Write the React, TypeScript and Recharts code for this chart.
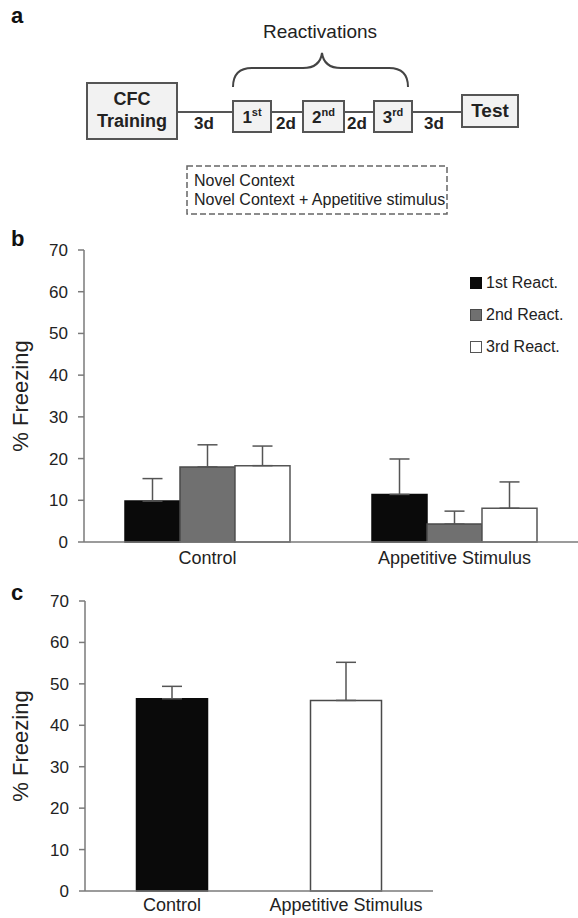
import React from 'react';
import { BarChart, Bar, XAxis, YAxis, ErrorBar, Legend, Label, Cell } from 'recharts';

const FONT = '"Liberation Sans", Arial, sans-serif';
const INK = '#222';
const AXIS = '#7a7a7a';

// panel b: freezing during each reactivation
const groups = ['Control', 'Appetitive Stimulus'];
const react1 = [9.8, 11.4];
const react1Err = [5.4, 8.5];
const react2 = [18.0, 4.3];
const react2Err = [5.3, 3.1];
const react3 = [18.3, 8.1];
const react3Err = [4.7, 6.3];

// panel c: test session
const testGroups = ['Control', 'Appetitive Stimulus'];
const testValues = [46.4, 46.0];
const testErr = [3.0, 9.2];
const testFills = ['#0a0a0a', '#ffffff'];
const testStrokes = ['#0a0a0a', '#4a4a4a'];

const yTicks = [0, 10, 20, 30, 40, 50, 60, 70];

const reactData = groups.map((g, i) => ({
  group: g,
  r1: react1[i],
  r1Err: [0, react1Err[i]],
  r2: react2[i],
  r2Err: [0, react2Err[i]],
  r3: react3[i],
  r3Err: [0, react3Err[i]],
}));

const testData = testGroups.map((g, i) => ({
  group: g,
  value: testValues[i],
  err: [0, testErr[i]],
}));

const YLabel = ({ viewBox }: any) => {
  const cx = 20;
  const cy = viewBox.y + viewBox.height / 2;
  return (
    <text
      x={cx}
      y={cy}
      transform={`rotate(-90 ${cx} ${cy})`}
      textAnchor="middle"
      dominantBaseline="central"
      fontFamily={FONT}
      fontSize={22}
      fill={INK}
    >
      % Freezing
    </text>
  );
};

const ReactLegend = ({ payload }: any) => (
  <div style={{ fontFamily: FONT, fontSize: 16, color: INK }}>
    {(payload || []).map((p: any) => (
      <div key={p.value} style={{ display: 'flex', alignItems: 'center', height: 32, whiteSpace: 'nowrap' }}>
        <span
          style={{
            display: 'inline-block',
            width: 10,
            height: 10,
            background: p.color,
            border: `1px solid ${p.payload?.stroke ?? p.color}`,
            marginRight: 4,
          }}
        />
        {p.value}
      </div>
    ))}
  </div>
);

const yAxisProps = {
  domain: [0, 70] as [number, number],
  ticks: yTicks,
  interval: 0 as const,
  tickSize: 6,
  tickMargin: 10,
  axisLine: { stroke: AXIS, strokeWidth: 1.5 },
  tickLine: { stroke: AXIS, strokeWidth: 1.5 },
  tick: { fontSize: 17, fill: INK, fontFamily: FONT },
};

const errProps = { stroke: '#555', strokeWidth: 1.5, width: 10 };

const Schematic = () => {
  const boxFill = '#f2f2f2';
  const boxStroke = '#555';
  const bold = { fontFamily: FONT, fontWeight: 700, fill: INK } as const;
  return (
    <svg width={578} height={230} style={{ position: 'absolute', left: 0, top: 0 }}>
      <text x={11} y={23} fontFamily={FONT} fontWeight={700} fontSize={22} fill="#111">a</text>
      <text x={320} y={38} textAnchor="middle" fontFamily={FONT} fontSize={19} fill={INK}>Reactivations</text>
      <path
        d="M233 87 Q233 68 252 68 L303 68 Q320 68 322 53 Q324 68 341 68 L389 68 Q408 68 408 87"
        fill="none"
        stroke="#444"
        strokeWidth={2}
      />
      <line x1={177} y1={112} x2={462} y2={112} stroke={boxStroke} strokeWidth={2} />
      <rect x={87} y={83} width={90} height={56} fill={boxFill} stroke={boxStroke} strokeWidth={2} />
      <text x={132} y={105} textAnchor="middle" fontSize={18} {...bold}>CFC</text>
      <text x={132} y={127} textAnchor="middle" fontSize={18} {...bold}>Training</text>

      <rect x={233} y={101} width={38} height={31} fill={boxFill} stroke={boxStroke} strokeWidth={2} />
      <text x={252} y={123} textAnchor="middle" fontSize={17} {...bold}>1<tspan fontSize={11} dy={-7}>st</tspan></text>
      <rect x={303} y={101} width={41} height={31} fill={boxFill} stroke={boxStroke} strokeWidth={2} />
      <text x={323.5} y={123} textAnchor="middle" fontSize={17} {...bold}>2<tspan fontSize={11} dy={-7}>nd</tspan></text>
      <rect x={374} y={101} width={38} height={31} fill={boxFill} stroke={boxStroke} strokeWidth={2} />
      <text x={393} y={123} textAnchor="middle" fontSize={17} {...bold}>3<tspan fontSize={11} dy={-7}>rd</tspan></text>

      <rect x={462} y={95} width={56} height={32} fill={boxFill} stroke={boxStroke} strokeWidth={2} />
      <text x={490} y={117} textAnchor="middle" fontSize={19} {...bold}>Test</text>

      <text x={204} y={129} textAnchor="middle" fontSize={17} {...bold}>3d</text>
      <text x={286} y={129} textAnchor="middle" fontSize={17} {...bold}>2d</text>
      <text x={357} y={129} textAnchor="middle" fontSize={17} {...bold}>2d</text>
      <text x={434} y={129} textAnchor="middle" fontSize={17} {...bold}>3d</text>

      <rect x={187} y={166} width={260} height={48} fill="none" stroke="#666" strokeWidth={1.5} strokeDasharray="6 3" />
      <text x={194} y={186} fontFamily={FONT} fontSize={16} fill={INK}>Novel Context</text>
      <text x={194} y={205} fontFamily={FONT} fontSize={16} fill={INK}>Novel Context + Appetitive stimulus</text>
    </svg>
  );
};

export default function App() {
  return (
    <div style={{ position: 'absolute', left: 0, top: 0, width: 578, height: 918, background: '#fff', fontFamily: FONT }}>
      <Schematic />

      <div style={{ position: 'absolute', left: 11, top: 226, fontFamily: FONT, fontWeight: 700, fontSize: 22, color: '#111' }}>b</div>
      <div style={{ position: 'absolute', left: 0, top: 230 }}>
        <BarChart
          width={578}
          height={350}
          data={reactData}
          margin={{ top: 20, right: 0, bottom: 8, left: 0 }}
          barCategoryGap={41}
          barGap={0}
        >
          <XAxis
            dataKey="group"
            height={30}
            tickLine={false}
            tickMargin={3}
            axisLine={{ stroke: AXIS, strokeWidth: 1.5 }}
            tick={{ fontSize: 18, fill: INK, fontFamily: FONT }}
          />
          <YAxis width={84} {...yAxisProps}>
            <Label content={<YLabel />} />
          </YAxis>
          <Legend
            layout="vertical"
            align="center"
            verticalAlign="middle"
            content={<ReactLegend />}
            wrapperStyle={{ position: 'absolute', left: 470, top: 37, width: 108 }}
          />
          <Bar dataKey="r1" name="1st React." fill="#0a0a0a" stroke="#0a0a0a" strokeWidth={1.5} isAnimationActive={false}>
            <ErrorBar dataKey="r1Err" {...errProps} />
          </Bar>
          <Bar dataKey="r2" name="2nd React." fill="#707070" stroke="#4a4a4a" strokeWidth={1.5} isAnimationActive={false}>
            <ErrorBar dataKey="r2Err" {...errProps} />
          </Bar>
          <Bar dataKey="r3" name="3rd React." fill="#ffffff" stroke="#555" strokeWidth={1.5} isAnimationActive={false}>
            <ErrorBar dataKey="r3Err" {...errProps} />
          </Bar>
        </BarChart>
      </div>

      <div style={{ position: 'absolute', left: 11, top: 580, fontFamily: FONT, fontWeight: 700, fontSize: 22, color: '#111' }}>c</div>
      <div style={{ position: 'absolute', left: 0, top: 590 }}>
        <BarChart
          width={578}
          height={328}
          data={testData}
          margin={{ top: 11, right: 145, bottom: 0, left: 0 }}
          barCategoryGap={51.5}
        >
          <XAxis
            dataKey="group"
            height={27}
            tickLine={false}
            tickMargin={1}
            axisLine={{ stroke: AXIS, strokeWidth: 1.5 }}
            tick={{ fontSize: 18, fill: INK, fontFamily: FONT }}
          />
          <YAxis width={85} {...yAxisProps}>
            <Label content={<YLabel />} />
          </YAxis>
          <Bar dataKey="value" strokeWidth={1.5} isAnimationActive={false}>
            {testData.map((d, i) => (
              <Cell key={d.group} fill={testFills[i]} stroke={testStrokes[i]} />
            ))}
            <ErrorBar dataKey="err" {...errProps} />
          </Bar>
        </BarChart>
      </div>
    </div>
  );
}
